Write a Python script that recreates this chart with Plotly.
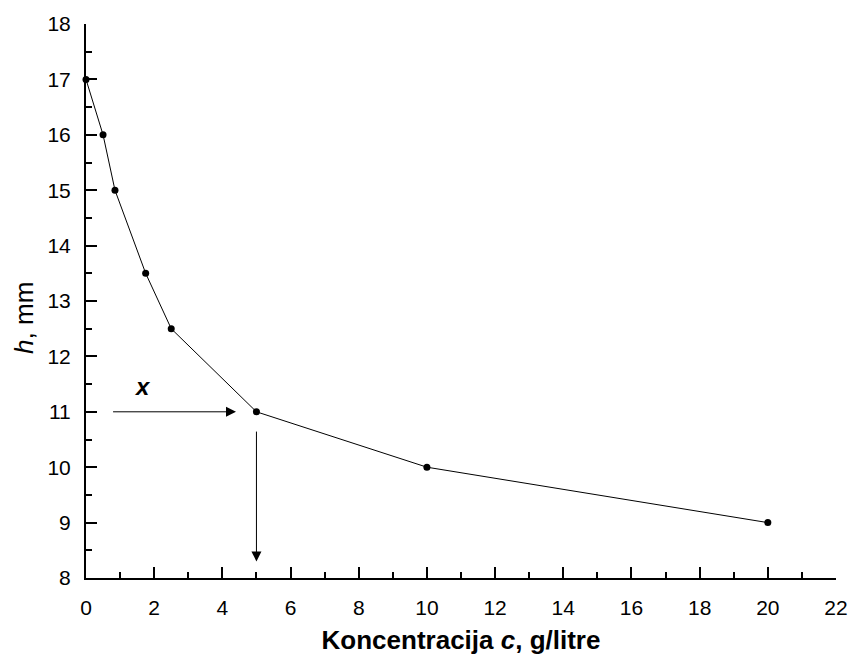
import plotly.graph_objects as go

conc = [0, 0.5, 0.85, 1.75, 2.5, 5, 10, 20]
height = [17, 16, 15, 13.5, 12.5, 11, 10, 9]

x_ticks = list(range(0, 23, 2))
y_ticks = list(range(8, 19, 1))

FONT = "Arial, Liberation Sans, sans-serif"

fig = go.Figure()
fig.add_trace(go.Scatter(
    x=conc, y=height, mode="lines+markers",
    line=dict(color="black", width=1),
    marker=dict(color="black", size=7),
    showlegend=False, cliponaxis=False,
))

axis_common = dict(
    showline=True, linecolor="black", linewidth=2,
    ticks="inside", ticklen=11, tickwidth=2, tickcolor="black",
    showgrid=False, zeroline=False, mirror=False, automargin=False,
    ticklabeloverflow="allow",
    tickfont=dict(family=FONT, size=21, color="black"),
)

fig.update_xaxes(
    range=[0, 22], tickvals=x_ticks, ticklabelstandoff=10,
    minor=dict(ticks="inside", dtick=1, tick0=0, ticklen=6, tickwidth=2, tickcolor="black", showgrid=False),
    title=dict(text="<b>Koncentracija <i>c</i>, g/litre</b>",
               font=dict(family=FONT, size=26, color="black"), standoff=13),
    **axis_common,
)
fig.update_yaxes(
    range=[8, 18], tickvals=y_ticks, ticklabelstandoff=9,
    minor=dict(ticks="inside", dtick=0.5, tick0=8, ticklen=6, tickwidth=2, tickcolor="black", showgrid=False),
    **axis_common,
)

# y-axis title placed as an annotation (sits slightly below centre in the reference)
fig.add_annotation(x=-0.083, y=0.469, xref="paper", yref="paper", showarrow=False,
                   xanchor="center", yanchor="middle",
                   textangle=-90, text="<i>h</i>, mm",
                   font=dict(family=FONT, size=26, color="black"))

# arrows
fig.add_annotation(x=4.4, y=11, ax=0.75, ay=11, xref="x", yref="y", axref="x", ayref="y",
                   showarrow=True, arrowhead=2, arrowsize=2, arrowwidth=1, arrowcolor="black", text="")
fig.add_annotation(x=5, y=8.3, ax=5, ay=10.67, xref="x", yref="y", axref="x", ayref="y",
                   showarrow=True, arrowhead=2, arrowsize=2, arrowwidth=1, arrowcolor="black", text="")
fig.add_annotation(x=1.66, y=11.45, xref="x", yref="y", showarrow=False,
                   text="<b><i>x</i></b>", font=dict(family=FONT, size=24, color="black"))

fig.update_layout(
    width=850, height=657,
    margin=dict(l=86, r=14, t=24, b=79),
    plot_bgcolor="white", paper_bgcolor="white",
)

# remove the default 8px page margin so the figure fills the window exactly
fig.write_html("out.html",
               config={"displayModeBar": False},
               post_script="document.body.style.margin='0';document.body.style.overflow='hidden';")
